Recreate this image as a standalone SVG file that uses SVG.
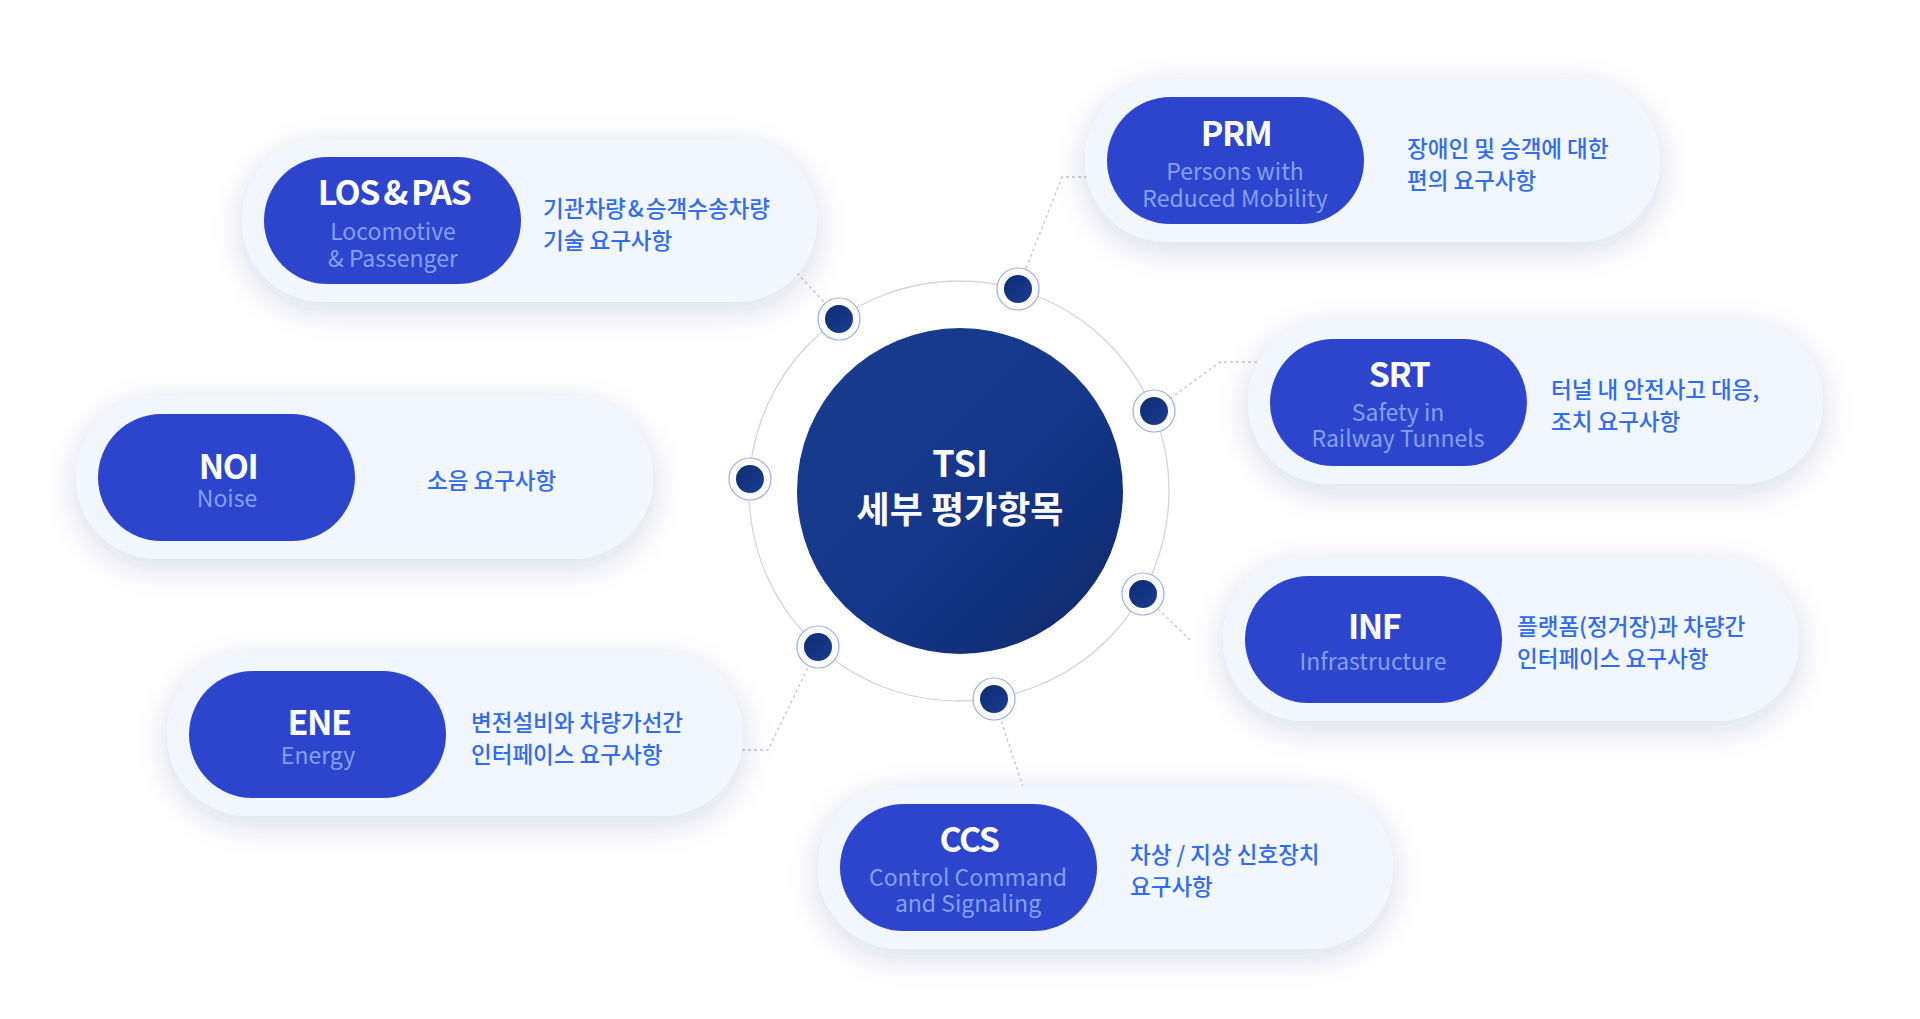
<svg xmlns="http://www.w3.org/2000/svg" width="1920" height="1019" viewBox="0 0 1920 1019">
<defs>
<filter id="sh" x="-20%" y="-40%" width="140%" height="190%">
<feDropShadow dx="0" dy="8" stdDeviation="16" flood-color="#1e2d6e" flood-opacity="0.16"/>
</filter>
<linearGradient id="cg" x1="0" y1="0" x2="1" y2="1">
<stop offset="0" stop-color="#173d8e"/>
<stop offset="0.55" stop-color="#15378a"/>
<stop offset="1" stop-color="#0e2868"/>
</linearGradient>
<linearGradient id="dg" x1="0" y1="0" x2="1" y2="1">
<stop offset="0" stop-color="#0f2c72"/>
<stop offset="1" stop-color="#1a3d92"/>
</linearGradient>
<style>
.outer{fill:#f2f6fe;filter:url(#sh)}
.inner{fill:#2c45cc}
.t{font-family:"Noto Sans CJK KR","Noto Sans",sans-serif;font-weight:700;font-size:34px;fill:#ffffff;text-anchor:middle;letter-spacing:-1.5px}
.s{font-family:"Noto Sans CJK KR","Noto Sans",sans-serif;font-weight:400;font-size:23px;fill:#85a0f3;text-anchor:middle}
.d{font-family:"Noto Sans CJK KR",sans-serif;font-weight:500;font-size:22.5px;fill:#2f6cf0}
.c{font-family:"Noto Sans CJK KR",sans-serif;font-weight:700;font-size:36px;fill:#ffffff;text-anchor:middle}
.ln{fill:none;stroke:#c6c8d2;stroke-width:1.3;stroke-dasharray:3 3}
.ring{fill:#ffffff;stroke:#9aaee6;stroke-width:1.2}
.dot{fill:url(#dg)}
</style>
</defs>
<rect width="1920" height="1019" fill="#ffffff"/>

<g id="connectors">
<polyline class="ln" points="797,273 839,318"/>
<polyline class="ln" points="1087,177 1062,177 1018,289"/>
<polyline class="ln" points="1257,362 1220,362 1153,411"/>
<polyline class="ln" points="1190,640 1143,594"/>
<polyline class="ln" points="742,750 768,750 818,647"/>
<polyline class="ln" points="1023,787 994,699"/>
</g>

<g id="hub">
<circle cx="959" cy="491" r="210" fill="none" stroke="#d4d5dc" stroke-width="1.3"/>
<circle cx="960" cy="491" r="163" fill="url(#cg)"/>
<text class="c" x="960" y="477">TSI</text>
<text class="c" x="960" y="523">세부 평가항목</text>
</g>

<g id="dots">
<circle class="ring" cx="839" cy="319" r="21"/><circle class="dot" cx="839" cy="319" r="14"/>
<circle class="ring" cx="1018" cy="289" r="21"/><circle class="dot" cx="1018" cy="289" r="14"/>
<circle class="ring" cx="1154" cy="411" r="21"/><circle class="dot" cx="1154" cy="411" r="14"/>
<circle class="ring" cx="750" cy="479" r="21"/><circle class="dot" cx="750" cy="479" r="14"/>
<circle class="ring" cx="1143" cy="594" r="21"/><circle class="dot" cx="1143" cy="594" r="14"/>
<circle class="ring" cx="818" cy="647" r="21"/><circle class="dot" cx="818" cy="647" r="14"/>
<circle class="ring" cx="994" cy="699" r="21"/><circle class="dot" cx="994" cy="699" r="14"/>
</g>

<g id="node-los">
<rect class="outer" x="242" y="139" width="575" height="163" rx="81.5"/>
<rect class="inner" x="264" y="157" width="257" height="127" rx="63.5"/>
<text class="t" x="394" y="205" word-spacing="-2">LOS &amp; PAS</text>
<text class="s" x="393" y="240">Locomotive</text>
<text class="s" x="393" y="267">&amp; Passenger</text>
<text class="d" x="543" y="217" word-spacing="-3">기관차량 &amp; 승객수송차량</text>
<text class="d" x="543" y="249">기술 요구사항</text>
</g>

<g id="node-prm">
<rect class="outer" x="1085" y="79" width="575" height="163" rx="81.5"/>
<rect class="inner" x="1107" y="97" width="257" height="127" rx="63.5"/>
<text class="t" x="1236" y="146">PRM</text>
<text class="s" x="1235" y="180">Persons with</text>
<text class="s" x="1235" y="207">Reduced Mobility</text>
<text class="d" x="1407" y="157">장애인 및 승객에 대한</text>
<text class="d" x="1407" y="189">편의 요구사항</text>
</g>

<g id="node-srt">
<rect class="outer" x="1248" y="321" width="575" height="163" rx="81.5"/>
<rect class="inner" x="1270" y="339" width="257" height="127" rx="63.5"/>
<text class="t" x="1399" y="387">SRT</text>
<text class="s" x="1398" y="421">Safety in</text>
<text class="s" x="1398" y="447">Railway Tunnels</text>
<text class="d" x="1551" y="398">터널 내 안전사고 대응,</text>
<text class="d" x="1551" y="430">조치 요구사항</text>
</g>

<g id="node-noi">
<rect class="outer" x="76" y="396" width="577" height="163" rx="81.5"/>
<rect class="inner" x="98" y="414" width="257" height="127" rx="63.5"/>
<text class="t" x="228" y="479">NOI</text>
<text class="s" x="227" y="507">Noise</text>
<text class="d" x="427" y="489">소음 요구사항</text>
</g>

<g id="node-ene">
<rect class="outer" x="167" y="653" width="576" height="163" rx="81.5"/>
<rect class="inner" x="189" y="671" width="257" height="127" rx="63.5"/>
<text class="t" x="319" y="735">ENE</text>
<text class="s" x="318" y="764">Energy</text>
<text class="d" x="471" y="731">변전설비와 차량가선간</text>
<text class="d" x="471" y="763">인터페이스 요구사항</text>
</g>

<g id="node-inf">
<rect class="outer" x="1223" y="558" width="576" height="163" rx="81.5"/>
<rect class="inner" x="1245" y="576" width="257" height="127" rx="63.5"/>
<text class="t" x="1374" y="639">INF</text>
<text class="s" x="1373" y="670">Infrastructure</text>
<text class="d" x="1517" y="635">플랫폼(정거장)과 차량간</text>
<text class="d" x="1517" y="667">인터페이스 요구사항</text>
</g>

<g id="node-ccs">
<rect class="outer" x="818" y="786" width="575" height="163" rx="81.5"/>
<rect class="inner" x="840" y="804" width="257" height="127" rx="63.5"/>
<text class="t" x="969" y="852">CCS</text>
<text class="s" x="968" y="886">Control Command</text>
<text class="s" x="968" y="912">and Signaling</text>
<text class="d" x="1130" y="863">차상 / 지상 신호장치</text>
<text class="d" x="1130" y="895">요구사항</text>
</g>
</svg>
